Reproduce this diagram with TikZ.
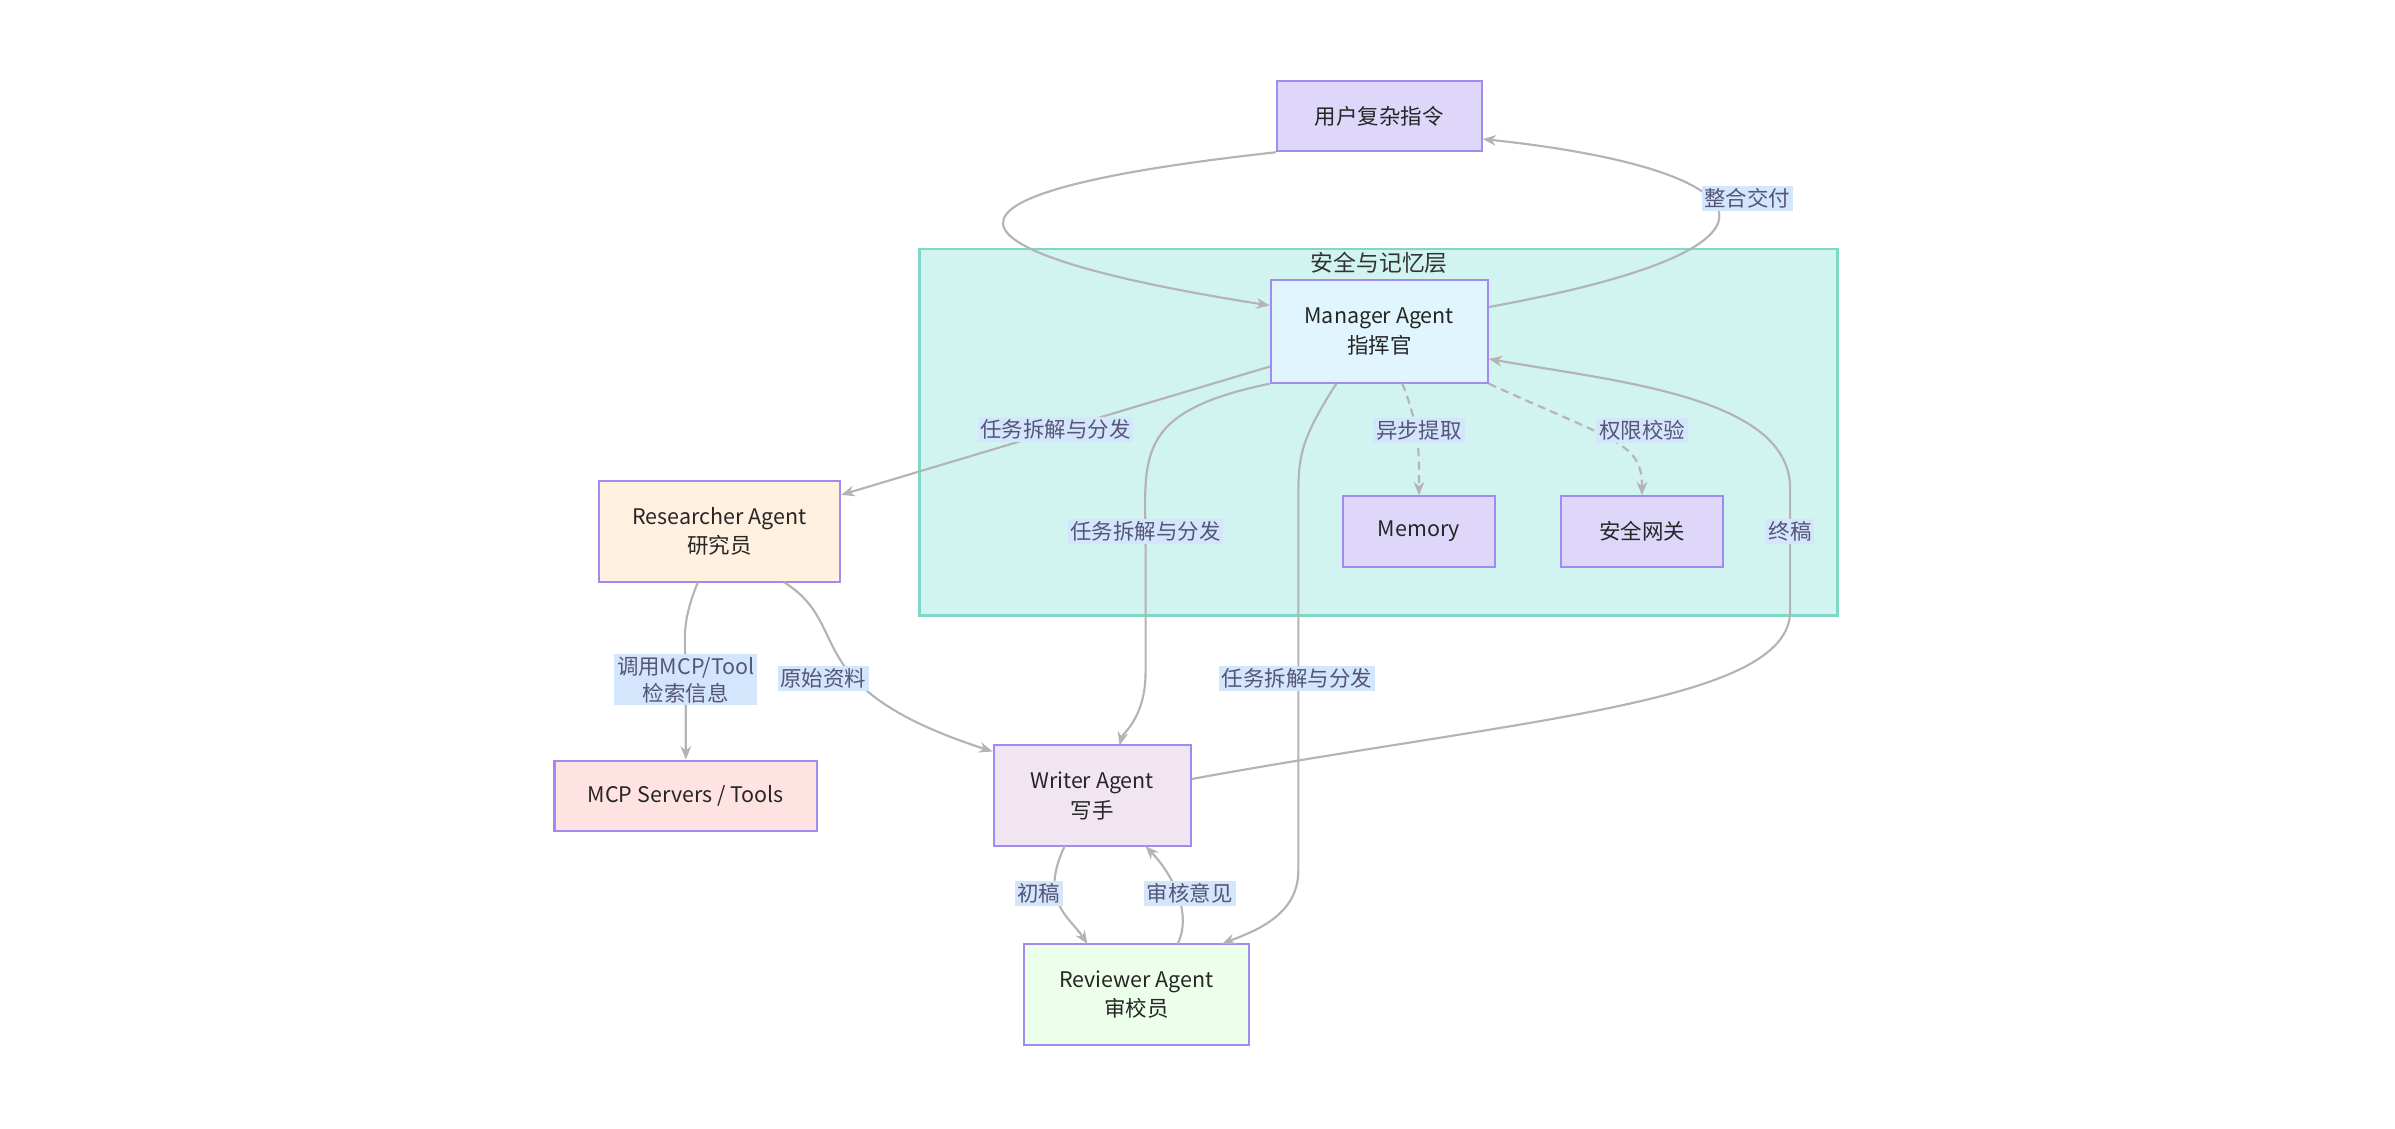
\documentclass[tikz,border=0pt]{standalone}
\usepackage{fontspec}
\newfontfamily\cjk{Noto Sans CJK SC}
\usetikzlibrary{arrows.meta,positioning,calc}
\definecolor{boxline}{HTML}{A08CF0}
\definecolor{edgegray}{HTML}{B4B4B4}
\definecolor{lblbg}{HTML}{D4E6FC}
\definecolor{lbltext}{HTML}{55557A}
\definecolor{layerfill}{HTML}{D2F4F0}
\definecolor{layerline}{HTML}{7FD8C6}
\begin{document}
\begin{tikzpicture}[x=0.02cm,y=-0.02cm]
		\tikzstyle{Box}		= [draw=boxline, thick, align=center, inner sep=0pt, font=\cjk\fontsize{8}{11}\selectfont, text=black!85]
		\tikzstyle{Flow}	= [draw=edgegray, thick, -{Stealth[length=5pt,width=4pt]}]
		\tikzstyle{Async}	= [Flow, densely dashed]
		\tikzstyle{Lbl}		= [fill=lblbg, inner sep=1pt, align=center, text=lbltext, font=\cjk\fontsize{8}{10}\selectfont]

		\useasboundingbox (0,0) rectangle (1568,739);
		% cluster
		\draw[draw=layerline, fill=layerfill, thick] (602,163) rectangle (1203,403);
		\node (layer) at (903,172) [font=\cjk\fontsize{8.5}{10}\selectfont, text=black!80] {安全与记忆层};

		\node (user) at (903,76) [Box, fill=boxline!35, minimum width=2.68cm, minimum height=0.92cm] {用户复杂指令};
		\node (mgr) at (903,217) [Box, fill=cyan!12, minimum width=2.84cm, minimum height=1.34cm] {Manager Agent\\指挥官};
		\node (mem) at (929,348) [Box, fill=boxline!35, minimum width=2.0cm, minimum height=0.92cm] {Memory};
		\node (gate) at (1075,348) [Box, fill=boxline!35, minimum width=2.12cm, minimum height=0.92cm] {安全网关};
		\node (res) at (471,348) [Box, fill=orange!12, minimum width=3.16cm, minimum height=1.32cm] {Researcher Agent\\研究员};
		\node (mcp) at (449,521) [Box, fill=pink!45, minimum width=3.44cm, minimum height=0.92cm] {MCP Servers / Tools};
		\node (wri) at (715,521) [Box, fill=violet!10, minimum width=2.58cm, minimum height=1.32cm] {Writer Agent\\写手};
		\node (rev) at (744,651) [Box, fill=green!8, minimum width=2.94cm, minimum height=1.32cm] {Reviewer Agent\\审校员};

		\draw [Flow] (user.south west) .. controls (560,130) and (640,170) .. (mgr.west |- 0,200);
		\draw [Flow] (mgr.east |- 0,201) .. controls (1200,160) and (1150,110) .. (user.east |- 0,91) node [Lbl] at (1144,130) {整合交付};
		\draw [Flow] (mgr.west |- 0,240) -- (res.east |- 0,324) node [Lbl] at (691,281) {任务拆解与分发};
		\draw [Flow] (mgr.south west) .. controls (740,270) and (750,300) .. (750,360) -- (750,440) .. controls (750,470) and (735,480) .. (733,488) node [Lbl] at (750,348) {任务拆解与分发};
		\draw [Flow] (875,251) .. controls (850,290) and (850,300) .. (850,330) -- (850,570) .. controls (850,600) and (820,610) .. (800,618) node [Lbl] at (849,444) {任务拆解与分发};
		\draw [Async] (918,251) .. controls (930,280) and (929,300) .. (mem.north) node [Lbl] at (929,282) {异步提取};
		\draw [Async] (mgr.south east) .. controls (1060,290) and (1075,290) .. (gate.north) node [Lbl] at (1075,282) {权限校验};
		\draw [Flow] (wri.east |- 0,510) .. controls (1000,470) and (1172,460) .. (1172,400) -- (1172,320) .. controls (1172,260) and (1060,250) .. (mgr.east |- 0,235) node [Lbl] at (1172,348) {终稿};
		\draw [Flow] (457,381) .. controls (445,410) and (449,420) .. (449,440) -- (mcp.north) node [Lbl] at (449,445) {调用MCP/Tool\\检索信息};
		\draw [Flow] (513,381) .. controls (560,410) and (520,450) .. (wri.west |- 0,492) node [Lbl] at (539,444) {原始资料};
		\draw [Flow] (697,554) .. controls (680,590) and (700,600) .. (712,618) node [Lbl] at (680,585) {初稿};
		\draw [Flow] (771,618) .. controls (780,600) and (770,575) .. (750,554) node [Lbl] at (779,585) {审核意见};
	\end{tikzpicture}
\end{document}
